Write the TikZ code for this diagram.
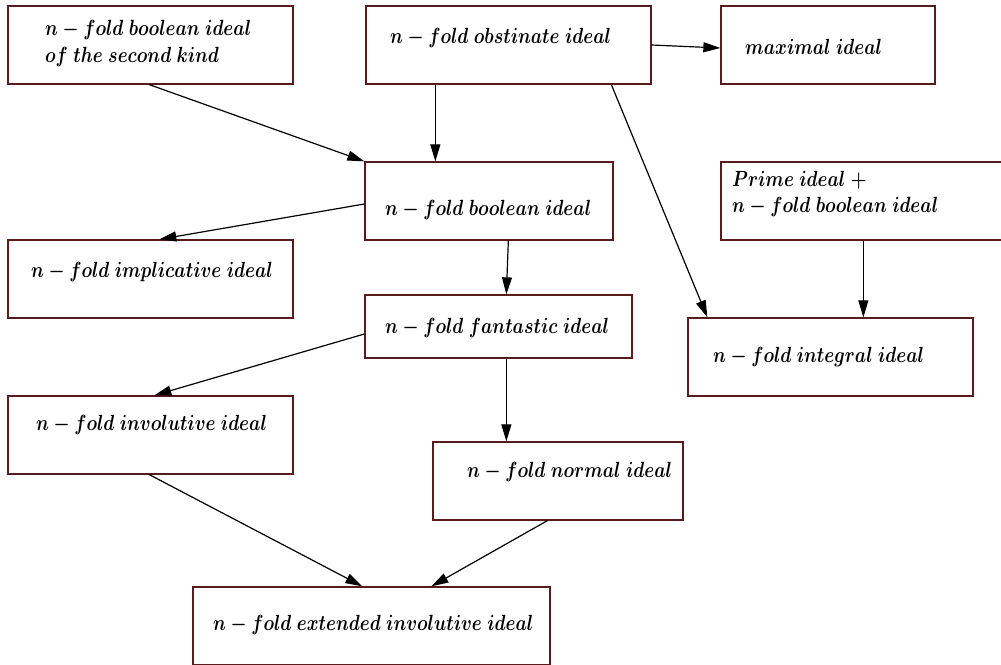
\documentclass[tikz,border=0pt]{standalone}
\usepackage{fix-cm}
\usepackage{graphicx}
\usetikzlibrary{arrows.meta}
\definecolor{boxc}{RGB}{88,28,28}
\newcommand{\tallt}[1]{\scalebox{1}[1.22]{#1}}
\begin{document}
\begin{tikzpicture}[x=1pt,y=-1pt,
  box/.style={draw=boxc, line width=1.3pt, inner sep=0pt, minimum height=78pt},
  txt/.style={anchor=base west, inner sep=0pt, font=\fontsize{18}{22}\selectfont\boldmath},
  arr/.style={draw=black, line width=1.2pt, -{Triangle[length=17pt,width=10pt]}}]
\useasboundingbox (0,0) rectangle (1001,664);
\fill[white] (0,0) rectangle (1001,664);
% boxes
\node[box, minimum width=285pt] (b1) at (150.5,45) {};
\node[box, minimum width=285pt] (obst) at (508.5,45) {};
\node[box, minimum width=214pt] (max) at (828,45) {};
\node[box, minimum width=248pt] (bool) at (489,201) {};
\node[box, minimum width=285pt] (prime) at (863.5,201) {};
\node[box, minimum width=285pt] (impl) at (150.5,279) {};
\node[box, minimum width=267pt, minimum height=63pt] (fant) at (498.5,326.5) {};
\node[box, minimum width=285pt] (integ) at (830.5,357) {};
\node[box, minimum width=285pt] (invol) at (150.5,435) {};
\node[box, minimum width=250pt] (norm) at (558,481) {};
\node[box, minimum width=357pt] (ext) at (371.5,626) {};
% texts
\node[txt] (t1a) at (45,35) {\tallt{$n-fold\ boolean\ ideal$}};
\node[txt] (t1b) at (45,62) {\tallt{$of\ the\ second\ kind$}};
\node[txt] (t2) at (390,43) {\tallt{$n-fold\ obstinate\ ideal$}};
\node[txt] (t3) at (745,54) {\tallt{$maximal\ ideal$}};
\node[txt] (t4) at (385,215) {\tallt{$n-fold\ boolean\ ideal$}};
\node[txt] (t5a) at (732,186) {\tallt{$Prime\ ideal\ +$}};
\node[txt] (t5b) at (732,212) {\tallt{$n-fold\ boolean\ ideal$}};
\node[txt] (t6) at (31,277) {\tallt{$n-fold\ implicative\ ideal$}};
\node[txt] (t7) at (385,333) {\tallt{$n-fold\ fantastic\ ideal$}};
\node[txt] (t8) at (713,362) {\tallt{$n-fold\ integral\ ideal$}};
\node[txt] (t9) at (36,430) {\tallt{$n-fold\ involutive\ ideal$}};
\node[txt] (t10) at (467,477) {\tallt{$n-fold\ normal\ ideal$}};
\node[txt] (t11) at (213,630) {\tallt{$n-fold\ extended\ involutive\ ideal$}};
% connectors
\draw[arr] ([xshift=142pt]b1.south west) -- (bool.north west);
\draw[arr] ([xshift=70pt]obst.south west) -- ([xshift=71pt]bool.north west);
\draw[arr] (obst.east) -- ([yshift=-3pt]max.west);
\draw[arr] ([xshift=246pt]obst.south west) -- ([xshift=20pt]integ.north west);
\draw[arr] ([xshift=143pt]prime.south west) -- ([xshift=176pt]integ.north west);
\draw[arr] ([yshift=-3pt]bool.west) -- ([xshift=152pt]impl.north west);
\draw[arr] ([xshift=144pt]bool.south west) -- ([xshift=142pt]fant.north west);
\draw[arr] ([yshift=-7.5pt]fant.west) -- ([xshift=147pt]invol.north west);
\draw[arr] ([xshift=142pt]fant.south west) -- ([xshift=74pt]norm.north west);
\draw[arr] ([xshift=142pt]invol.south west) -- ([xshift=170pt]ext.north west);
\draw[arr] ([xshift=115pt]norm.south west) -- ([xshift=239pt]ext.north west);
\end{tikzpicture}
\end{document}
